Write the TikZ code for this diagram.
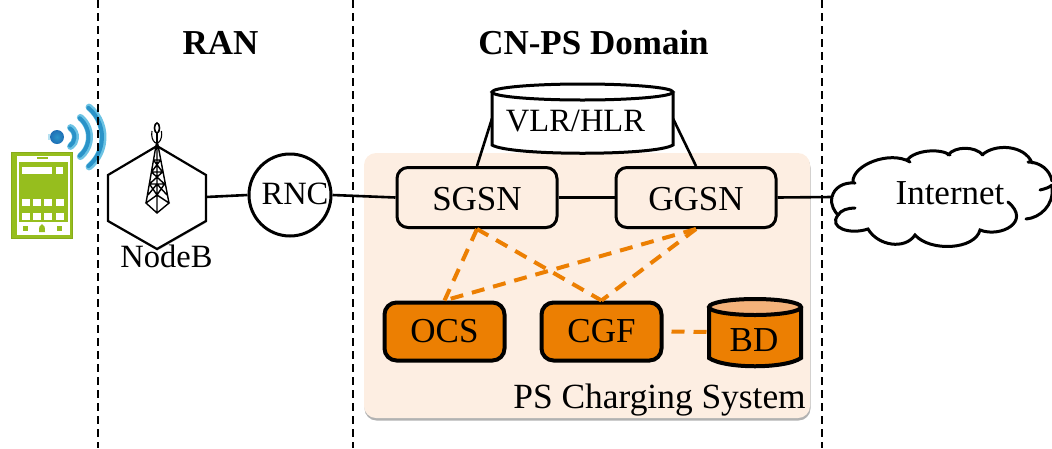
\documentclass[tikz,border=0pt]{standalone}
\usepackage{fontspec}
\setmainfont{Liberation Serif}
\usetikzlibrary{shadows}
\definecolor{panel}{HTML}{FDEEE2}
\definecolor{org}{HTML}{EC7F02}
\definecolor{orgl}{HTML}{F4B27A}
\definecolor{phone}{HTML}{96BE1E}
\definecolor{wave}{HTML}{2A93C8}
\definecolor{wavel}{HTML}{6CC3E4}
\definecolor{waved}{HTML}{1F6FB5}
\tikzset{
  x=1pt,y=-1pt,
  lbl/.style={font=\fontsize{35}{37}\selectfont,inner sep=0pt},
  lblsmall/.style={font=\fontsize{32.5}{35}\selectfont,inner sep=0pt},
  boldlbl/.style={font=\fontsize{35}{37}\selectfont\bfseries,inner sep=0pt},
  anchorbox/.style={inner sep=0pt,outer sep=0pt},
  netbox/.style={draw=black,line width=3pt,rounded corners=11pt,minimum width=160pt,minimum height=60pt,inner sep=0pt,drop shadow={shadow xshift=0.5pt,shadow yshift=-1.5pt,opacity=.25,fill=black}},
  chgbox/.style={draw=black,fill=org,line width=4pt,rounded corners=12pt,minimum width=120pt,minimum height=58pt,inner sep=0pt,font=\fontsize{35}{37}\selectfont},
  sep/.style={black,line width=1.6pt,dash pattern=on 8pt off 5pt},
  wire/.style={black,line width=2.6pt},
  chg/.style={org,line width=4pt,dash pattern=on 13pt off 9pt},
  tower/.style={black,line width=1.4pt},
}
\begin{document}
\begin{tikzpicture}
\useasboundingbox (0,0) rectangle (1052,448);
% charging panel
\fill[panel,rounded corners=12pt,drop shadow={shadow xshift=0.5pt,shadow yshift=-2.5pt,opacity=.3,fill=black}] (364,153) rectangle (810,418);
% phone
\fill[phone!90!black] (11,152) rectangle (73,239);
\fill[phone] (12,153) rectangle (72,238);
\fill[white] (17,156) rectangle (70,235);
\fill[phone] (19,162) rectangle (68,222);
\fill[phone] (37,156.5) rectangle (48,158.5);
\fill[white] (22,167) rectangle (52,174);
\fill[white] (56,167) rectangle (63,174);
\foreach \px in {22,33,44,56}{
  \fill[white] (\px,199) rectangle +(8,7);
  \fill[white] (\px,213) rectangle +(8,7);
}
\fill[phone] (23,226) rectangle +(5,5);
\fill[phone] (57,226) rectangle +(5,5);
\fill[phone] (42,224) .. controls (39,225) and (39,228) .. (39,232) -- (45,232) .. controls (45,228) and (45,225) .. (42,224) -- cycle;
% wifi
\fill[wavel!50] (48,134) rectangle (50,140);
\shade[inner color=wave,outer color=waved] (57,137) circle (7);
\begin{scope}[shift={(64,137)}]
\foreach \R/\A in {39/50,25.5/50,11.5/55}{
  \draw[wavel,line width=7pt,line cap=round] (-\A:\R) arc[start angle=-\A,end angle=\A,radius=\R];
  \draw[wave,line width=4pt,line cap=round] (-\A:\R-1) arc[start angle=-\A,end angle=\A,radius=\R-1];
}
\end{scope}
% separators
\coordinate (s1t) at (98,0); \coordinate (s1b) at (98,448);
\coordinate (s2t) at (353,0); \coordinate (s2b) at (353,448);
\coordinate (s3t) at (822,0); \coordinate (s3b) at (822,448);
\draw[sep] (s1t) -- (s1b);
\draw[sep] (s2t) -- (s2b);
\draw[sep] (s3t) -- (s3b);
% titles
\node[boldlbl] (ran) at (220.5,43) {RAN};
\node[boldlbl] (cnps) at (593.5,43) {CN-PS Domain};
% anchors of hand-drawn shapes
\node[anchorbox,minimum width=98pt,minimum height=104pt] (nb) at (157,197) {};
\node[anchorbox,minimum width=181pt,minimum height=69pt] (vlr) at (582.5,118.5) {};
\node[anchorbox,minimum width=92pt,minimum height=68pt] (bd) at (755,332) {};
\node[anchorbox,minimum width=220pt,minimum height=100pt] (inet) at (942,197) {};
% wires
\node[netbox,fill=panel] (sgsn) at (477,197.5) {};
\node[netbox,fill=panel] (ggsn) at (696,197.5) {};
\draw[wire] (vlr.west) -- (sgsn.north);
\draw[wire] (vlr.east) -- (ggsn.north);
\draw[wire] (sgsn) -- (ggsn);
\node[draw=black,line width=3pt,fill=white,circle,minimum size=82pt,inner sep=0pt] (rnc) at (290,195) {};
\draw[wire] (nb.east) -- (rnc.west);
\draw[wire] (rnc.east) -- (sgsn.west);
\draw[wire] (ggsn.east) -- (inet.west);
% hexagon
\draw[line width=2.2pt,fill=white,line join=miter,drop shadow={shadow xshift=0.5pt,shadow yshift=-1.5pt,opacity=.25,fill=black}] (157,146) -- (206,175) -- (206,221) -- (157,249) -- (108,221) -- (108,175) -- cycle;
% tower
\draw[tower] (157,140) -- (146,203) (157,140) -- (169,203) (157,140) -- (157,213)
  (146,203) -- (157,213) -- (169,203) -- (157,195) -- cycle
  (153.5,160) -- (160.5,160) (151.5,172) -- (162.5,172) (149.5,184) -- (164.5,184)
  (153.5,160) -- (162.5,172) (160.5,160) -- (151.5,172)
  (151.5,172) -- (164.5,184) (162.5,172) -- (149.5,184)
  (149.5,184) -- (157,195) -- (164.5,184)
  (148,195) -- (157,184) -- (167,195);
\draw[tower,line width=1.6pt] (157,128) ellipse[x radius=2.5,y radius=5];
\draw[tower] (157,133) -- (157,140);
\draw[tower,line width=1.1pt] (152,131) arc[start angle=200,end angle=-20,x radius=5,y radius=9];
% vlr cylinder
\draw[line width=3pt,fill=white] (492,93) -- (492,145) .. controls (510,156) and (655,156) .. (673,145) -- (673,93);
\draw[line width=3pt,fill=white] (582.5,92) ellipse[x radius=90.5,y radius=8];
\node[lblsmall] (vlrt) at (575.5,121) {VLR/HLR};
% internet cloud
\draw[line width=3pt,fill=white,line cap=round]
 (inet.west) .. controls (834,188) and (843,182) .. (855,183)
 (853,182) .. controls (852,165) and (890,150) .. (910,162)
 (907,160) .. controls (915,150) and (940,148) .. (950,155)
 (948,155) .. controls (955,146) and (975,146) .. (983,155)
 (982,155) .. controls (995,143) and (1025,145) .. (1032,163)
 (1028,162) .. controls (1040,162) and (1050,170) .. (1052,181);
\draw[line width=3pt,line cap=round,fill=white]
 (inet.west) .. controls (830,205) and (835,212) .. (838,215)
 .. controls (828,228) and (850,235) .. (868,229)
 .. controls (878,246) and (905,250) .. (915,235)
 .. controls (930,252) and (975,250) .. (980,230)
 .. controls (1000,238) and (1032,222) .. (1008,202);
\draw[line width=3pt,line cap=round]
 (838,215) .. controls (841,210) and (848,208) .. (855,208)
 (1026,219) .. controls (1040,218) and (1054,205) .. (1052,188)
 (1040,190) .. controls (1045,189) and (1050,187) .. (1052,185);
\node[lbl] (inett) at (950,193) {Internet};
% labels in white shapes
\node[lbl] (sgsnt) at (477,199) {SGSN};
\node[lbl] (ggsnt) at (696,199) {GGSN};
\node[lblsmall] (rnct) at (295,194) {RNC};
\node[lblsmall] (nbt) at (166.5,256) {NodeB};
% charging nodes
\node[chgbox] (ocs) at (444.5,331.5) {OCS};
\node[chgbox] (cgf) at (601.5,331.5) {CGF};
\draw[line width=4pt,fill=org] (709,307) -- (709,358) .. controls (725,369) and (785,369) .. (801,358) -- (801,307);
\draw[line width=4pt,fill=orgl] (755,307) ellipse[x radius=46,y radius=8];
\node[lbl] (bdt) at (754,340) {BD};
\node[lbl,anchor=base east,font=\fontsize{35.4}{38}\selectfont] (pst) at (806,408) {PS Charging System};
% charging links
\draw[chg] (sgsn.south) -- (ocs.north);
\draw[chg] (sgsn.south) -- (cgf.north);
\draw[chg] (ggsn.south) -- (ocs.north);
\draw[chg] (ggsn.south) -- (cgf.north);
\draw[chg] (cgf.east) ++(8,0) -- (bd.west);
\end{tikzpicture}
\end{document}
